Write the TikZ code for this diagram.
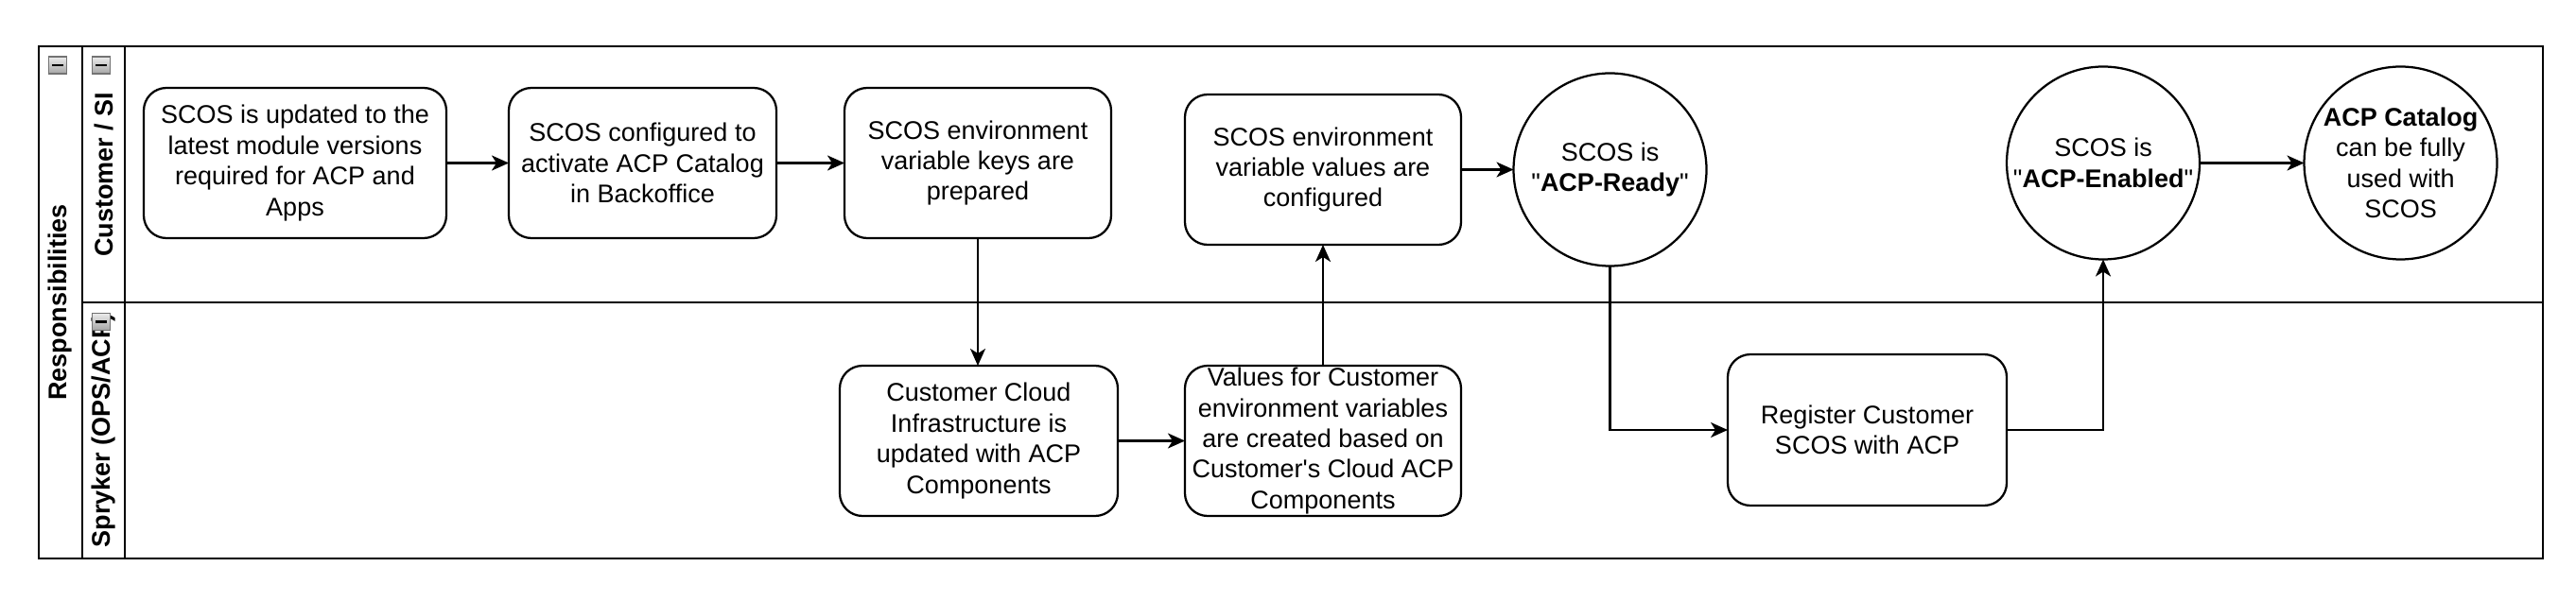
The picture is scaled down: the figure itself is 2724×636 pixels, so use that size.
\documentclass[tikz,border=0pt]{standalone}
\usepackage{fontspec}
\setmainfont{Liberation Sans}[Ligatures=TeXOff]
\usetikzlibrary{arrows.meta}
\begin{document}
\begin{tikzpicture}[x=1pt,y=-1pt,
  lbl/.style={font=\fontsize{27}{32.4}\selectfont},
  proc/.style={draw, line width=2.25pt, rounded corners=24pt, align=center, inner sep=0pt, outer sep=0pt, minimum height=159pt, lbl},
  state/.style={draw, circle, line width=2.25pt, minimum size=204pt, inner sep=0pt, outer sep=0pt, align=center, lbl},
  flow/.style={line width=2.25pt, -{Stealth[length=18pt,width=16pt,inset=5pt]}},
  frameline/.style={line width=2.5pt},
  lanelabel/.style={rotate=90, font=\fontsize{27}{32.4}\selectfont\bfseries},
  minusicon/.style={draw=black!55, line width=1.5pt, top color=black!8, bottom color=black!35,
    minimum width=19pt, minimum height=18pt, inner sep=0pt,
    path picture={\draw[line width=2.5pt, black] ([xshift=-6pt]path picture bounding box.center) -- ([xshift=6pt]path picture bounding box.center);}}
]
\useasboundingbox[fill=white] (0,0) rectangle (2724,636);

% swimlane frame
\draw[frameline] (41,49) rectangle (2689,591);
\draw[frameline] (87,49) -- (87,591);
\draw[frameline] (132,49) -- (132,591);
\draw[frameline] (87,320) -- (2689,320);

% lane labels
\node[lanelabel] (resp) at (64,320) {Responsibilities};
\node[lanelabel] (cust) at (109.5,184.5) {Customer / SI};
\node[lanelabel] (spry) at (109.5,455.5) {Spryker (OPS/ACP)};
\node[minusicon] (m1) at (61,69) {};
\node[minusicon] (m2) at (107,69) {};
\node[minusicon] (m3) at (107,340.5) {};

% process nodes
\node[proc, minimum width=320pt] (b1) at (312,172.5) {SCOS is updated to the\\latest module versions\\required for ACP and\\Apps};
\node[proc, minimum width=283pt] (b2) at (679.5,172.5) {SCOS configured to\\activate ACP Catalog\\in Backoffice};
\node[proc, minimum width=282pt] (b3) at (1034,172.5) {SCOS environment\\variable keys are\\prepared};
\node[proc, minimum width=292pt] (b4) at (1399,179.5) {SCOS environment\\variable values are\\configured};
\node[proc, minimum width=294pt] (b5) at (1035,466.5) {Customer Cloud\\Infrastructure is\\updated with ACP\\Components};
\node[proc, minimum width=292pt] (b6) at (1399,466.5) {Values for Customer\\environment variables\\are created based on\\Customer's Cloud ACP\\Components};
\node[proc, minimum width=295pt, minimum height=160pt] (b7) at (1974.5,455) {Register Customer\\SCOS with ACP};

% states
\node[state] (ready) at (1702.5,179.5) {SCOS is\\"\textbf{ACP-Ready}"};
\node[state] (enab) at (2224,172.5) {SCOS is\\"\textbf{ACP-Enabled}"};
\node[state] (cat) at (2538.5,172.5) {\textbf{ACP Catalog}\\can be fully\\used with\\SCOS};

% connectors
\draw[flow] (b1) -- (b2);
\draw[flow] (b2) -- (b3);
\draw[flow] (b3.south) -- (b3.south |- b5.north);
\draw[flow] (b5) -- (b6);
\draw[flow] (b6.north) -- (b4.south);
\draw[flow] (b4.east) -- (ready.west);
\draw[flow] (ready.south) |- (b7.west);
\draw[flow] (b7.east) -| (enab.south);
\draw[flow] (enab.east) -- (cat.west);
\end{tikzpicture}
\end{document}
